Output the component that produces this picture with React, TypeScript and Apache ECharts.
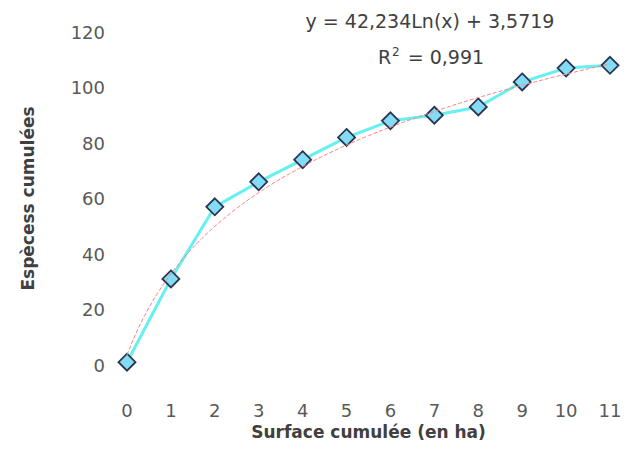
import React, { useEffect, useRef } from "react";
import * as echarts from "echarts";

const xValues = [0, 1, 2, 3, 4, 5, 6, 7, 8, 9, 10, 11];
const species = [1, 31, 57, 66, 74, 82, 88, 90, 93, 102, 107, 108];
const trendA = 42.234;
const trendB = 3.5719;
const yTicks = [0, 20, 40, 60, 80, 100, 120];

export default function App() {
  const ref = useRef<HTMLDivElement>(null);
  useEffect(() => {
    if (!ref.current) return;
    const chart = echarts.init(ref.current, undefined, { renderer: "svg" });
    const trend: number[][] = [];
    for (let i = 0; i <= 110; i++) {
      const x = i / 10;
      trend.push([x, trendA * Math.log(x + 1) + trendB]);
    }
    const font = "DejaVu Sans, sans-serif";
    chart.setOption({
      animation: false,
      grid: { left: 119, right: 24, top: 24, bottom: 100 },
      xAxis: {
        type: "value",
        min: 0,
        max: 11,
        interval: 1,
        axisLine: { show: false },
        axisTick: { show: false },
        splitLine: { show: false },
        axisLabel: { color: "#595959", fontSize: 18, fontFamily: font, margin: 36 },
        name: "Surface cumulée (en ha)",
        nameLocation: "middle",
        nameGap: 58,
        nameTextStyle: { color: "#404040", fontSize: 17, fontWeight: "bold", fontFamily: font },
      },
      yAxis: {
        type: "value",
        min: yTicks[0],
        max: yTicks[yTicks.length - 1],
        interval: 20,
        axisLine: { show: false },
        axisTick: { show: false },
        splitLine: { show: false },
        axisLabel: { color: "#595959", fontSize: 18, fontFamily: font, margin: 22 },
        name: "Espècess cumulées",
        nameLocation: "middle",
        nameGap: 91,
        nameRotate: 90,
        nameTextStyle: { color: "#404040", fontSize: 17, fontWeight: "bold", fontFamily: font },
      },
      graphic: [
        {
          type: "text",
          x: 422,
          y: 13,
          style: { text: "y = 42,234Ln(x) + 3,5719", fontSize: 19, fill: "#404040", fontFamily: font, align: "center", verticalAlign: "middle" },
        },
        {
          type: "text",
          x: 423,
          y: 49,
          style: {
            text: "R{sup|2} = 0,991",
            fontSize: 19,
            fill: "#404040",
            fontFamily: font,
            align: "center",
            verticalAlign: "middle",
            rich: { sup: { fontSize: 12, fill: "#404040", fontFamily: font, verticalAlign: "top", padding: [0, 2, 10, 1] } },
          },
        },
      ],
      series: [
        {
          type: "line",
          data: trend,
          showSymbol: false,
          symbol: "none",
          lineStyle: { color: "#ff8080", width: 1, type: [4, 2] },
          z: 3,
        },
        {
          type: "line",
          data: xValues.map((x, i) => [x, species[i]]),
          symbol: "diamond",
          symbolSize: 17,
          lineStyle: { color: "#66f0f0", width: 3 },
          itemStyle: { color: "#84dcf4", borderColor: "#2a3550", borderWidth: 1.8 },
          z: 2,
        },
      ],
    });
    return () => chart.dispose();
  }, []);
  return <div ref={ref} style={{ width: 626, height: 457 }} />;
}
